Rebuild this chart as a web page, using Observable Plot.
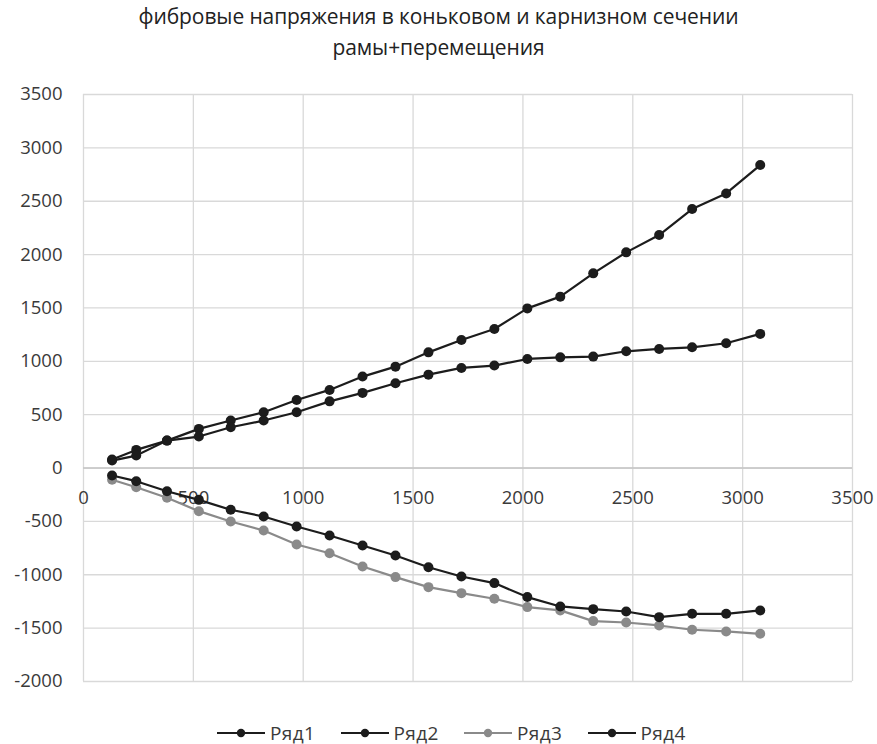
<!DOCTYPE html>
<html>
<head>
<meta charset="utf-8">
<script src="https://cdn.jsdelivr.net/npm/d3@7"></script>
<script src="https://cdn.jsdelivr.net/npm/@observablehq/plot@0.6"></script>
<style>
  body { margin: 0; background: #fff; font-family: "Open Sans", sans-serif; }
  #wrap { width: 877px; }
  #title { height: 78px; box-sizing: border-box; padding-top: 1px; text-align: center;
           font-size: 21px; line-height: 31px; color: #222; letter-spacing: -0.1px; }
  #legend { height: 46px; box-sizing: border-box; padding-top: 23px; padding-left: 217px;
            display: flex; font-size: 19px; line-height: 22px; color: #3a3a3a; letter-spacing: 0.4px; }
  .item { display: flex; align-items: center; width: 123.5px; }
  .item svg { margin-right: 5px; }
</style>
</head>
<body>
<div id="wrap">
  <div id="title">фибровые напряжения в коньковом и карнизном сечении<br>рамы+перемещения</div>
  <div id="chart"></div>
  <div id="legend"></div>
</div>
<script>
// Abscissa of each measured section
const xs = [130, 240, 380, 525, 670, 820, 970, 1120, 1270, 1420, 1570,
            1720, 1870, 2020, 2170, 2320, 2470, 2620, 2770, 2925, 3080];

// Fibre stresses per series
const ryad1 = [80, 170, 257, 367, 445, 523, 638, 732, 857, 950, 1084,
               1200, 1303, 1496, 1606, 1824, 2021, 2183, 2427, 2573, 2839];
const ryad2 = [70, 117, 257, 295, 382, 445, 523, 625, 704, 794, 875,
               938, 960, 1022, 1037, 1044, 1094, 1116, 1131, 1169, 1257];
const ryad3 = [-110, -180, -279, -404, -501, -585, -716, -798, -922, -1022, -1116,
               -1172, -1225, -1303, -1334, -1434, -1447, -1475, -1515, -1531, -1553];
const ryad4 = [-70, -123, -217, -298, -391, -454, -548, -632, -726, -819, -929,
               -1016, -1078, -1209, -1297, -1322, -1344, -1397, -1366, -1366, -1334];

const seriesNames = ["Ряд1", "Ряд2", "Ряд3", "Ряд4"];
const seriesColors = ["#1c1c1c", "#1c1c1c", "#8a8a8a", "#1c1c1c"];

const xTicks = [0, 500, 1000, 1500, 2000, 2500, 3000, 3500];
const yTicks = [-2000, -1500, -1000, -500, 0, 500, 1000, 1500, 2000, 2500, 3000, 3500];

const seriesValues = [ryad1, ryad2, ryad3, ryad4];
const rows = seriesValues.flatMap((vals, i) =>
  vals.map((v, j) => ({series: seriesNames[i], x: xs[j], y: v})));

const chart = Plot.plot({
  width: 877,
  height: 620,
  marginTop: 16,
  marginBottom: 17,
  marginLeft: 83,
  marginRight: 25,
  style: {fontFamily: "Open Sans", fontSize: "18.5px", color: "#3a3a3a", background: "#fff"},
  x: {domain: [0, 3500], axis: null},
  y: {domain: [-2000, 3500], axis: null},
  color: {domain: seriesNames, range: seriesColors},
  marks: [
    Plot.gridX(xTicks, {stroke: "#d9d9d9", strokeOpacity: 1, strokeWidth: 1.3}),
    Plot.gridY(yTicks, {stroke: "#d9d9d9", strokeOpacity: 1, strokeWidth: 1.3}),
    Plot.ruleY([0], {stroke: "#c4c4c4", strokeWidth: 1.5}),
    Plot.axisY(yTicks, {tickSize: 0, tickPadding: 21, tickFormat: d => String(d), label: null,
                        fontSize: 18.5, fill: "#3a3a3a"}),
    Plot.text(xTicks, {x: d => d, y: 0, dy: 30, text: d => String(d),
                       fontSize: 18.5, fill: "#3a3a3a"}),
    Plot.line(rows, {x: "x", y: "y", z: "series", stroke: "series", strokeWidth: 2.2}),
    Plot.dot(rows, {x: "x", y: "y", fill: "series", r: 5})
  ]
});
document.getElementById("chart").appendChild(chart);

// Legend below the plot
const legend = d3.select("#legend");
seriesNames.forEach((name, i) => {
  const item = legend.append("div").attr("class", "item");
  const s = item.append("svg").attr("width", 48).attr("height", 14);
  s.append("line").attr("x1", 0).attr("x2", 48).attr("y1", 7).attr("y2", 7)
    .attr("stroke", seriesColors[i]).attr("stroke-width", 2.2);
  s.append("circle").attr("cx", 24).attr("cy", 7).attr("r", 4.2).attr("fill", seriesColors[i]);
  item.append("span").text(name);
});
</script>
</body>
</html>
